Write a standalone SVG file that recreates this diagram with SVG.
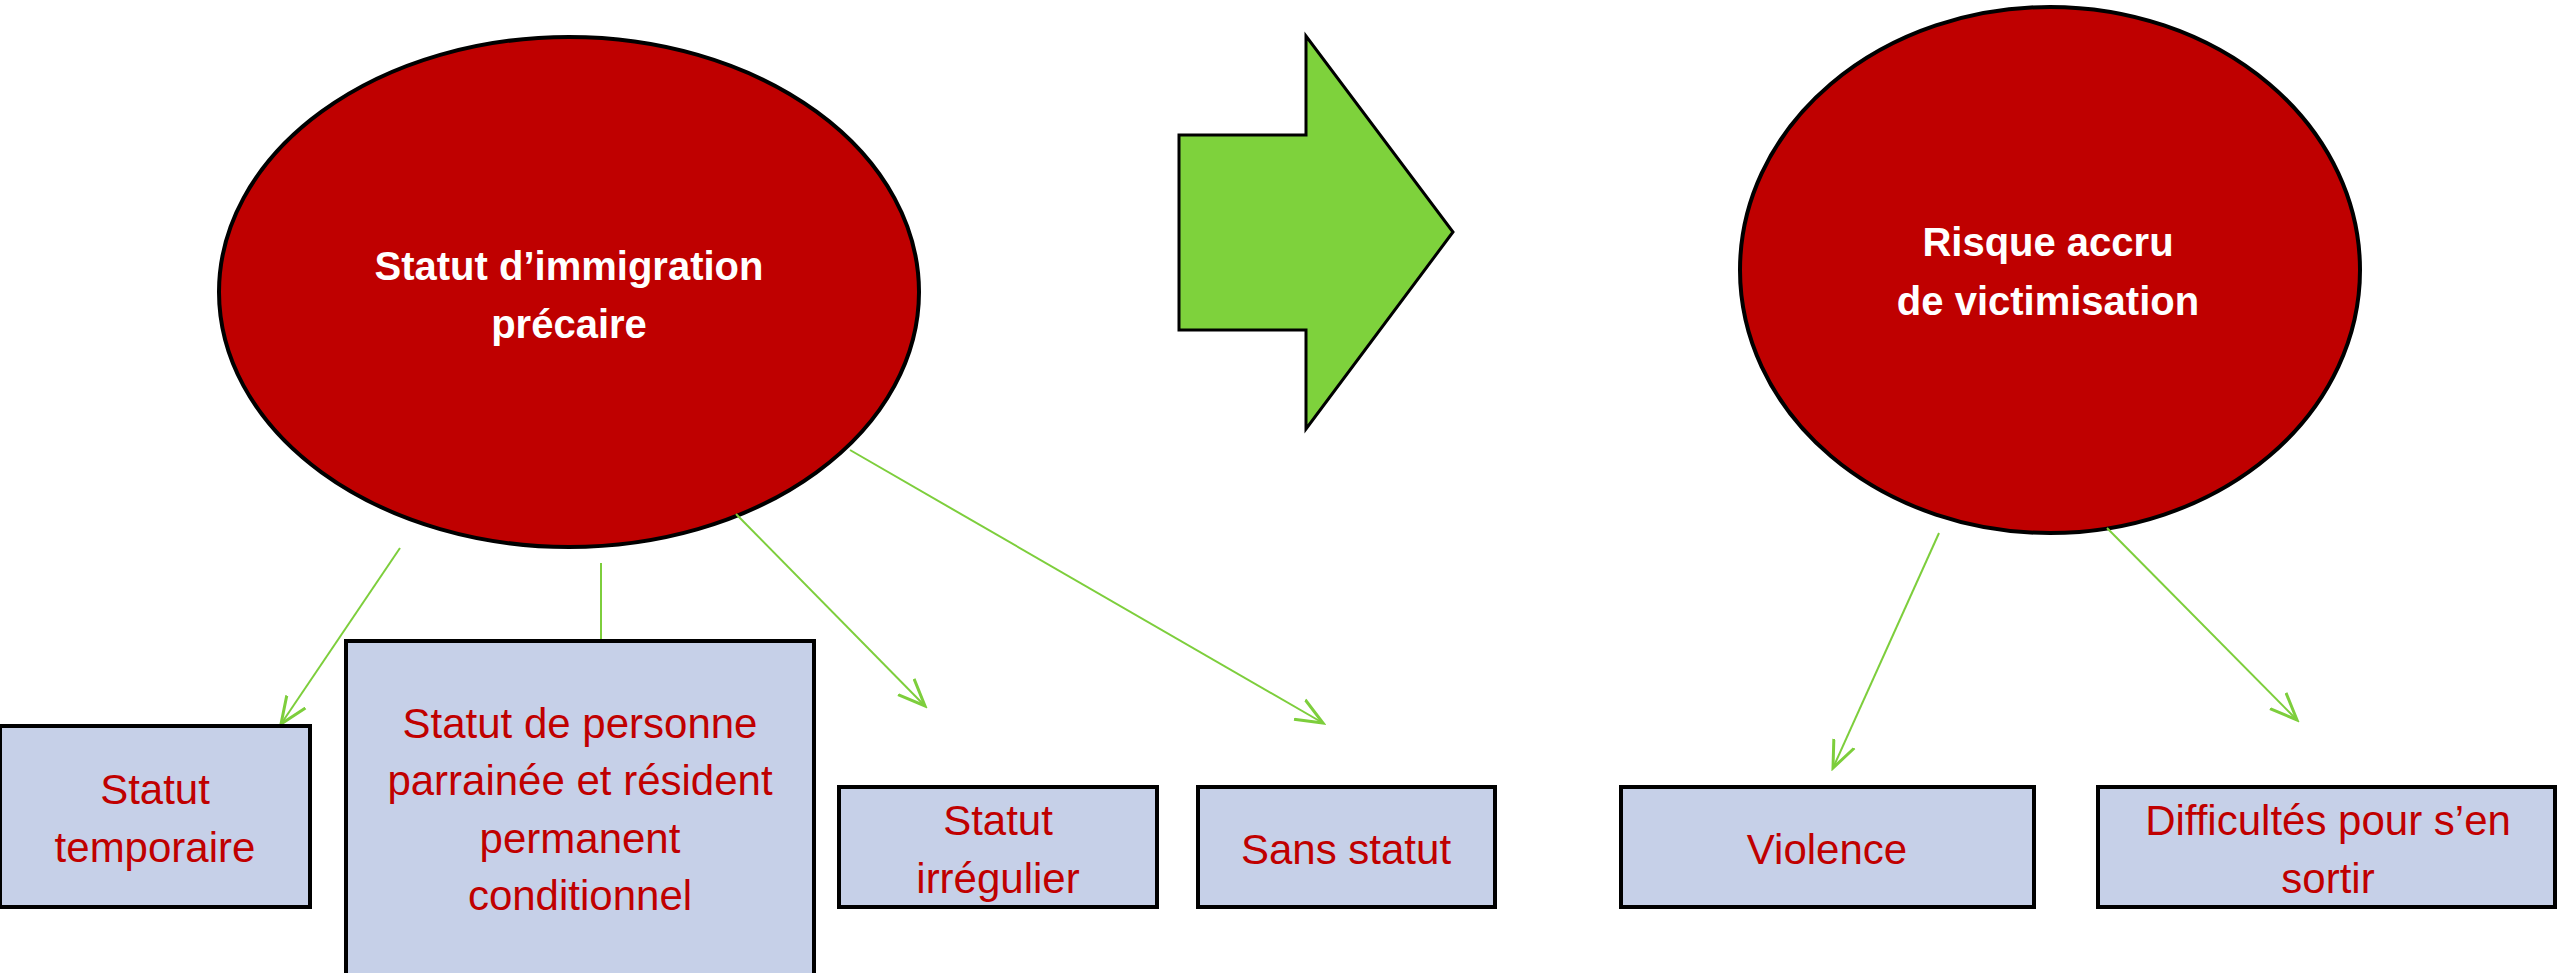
<svg xmlns="http://www.w3.org/2000/svg" width="2560" height="973" viewBox="0 0 2560 973">
<style>
.ell{fill:#BF0000;stroke:#000;stroke-width:4}
.box{fill:#C6D0E8;stroke:#000;stroke-width:4}
.lt{font-family:"Liberation Sans",Arial,sans-serif;font-size:42px;fill:#C00000;text-anchor:middle}
.wt{font-family:"Liberation Sans",Arial,sans-serif;font-size:40px;font-weight:bold;fill:#fff;text-anchor:middle}
.con{stroke:#7DCE3C;stroke-width:2;fill:none}
</style>
<defs>
<marker id="ah" markerUnits="userSpaceOnUse" markerWidth="30" markerHeight="30" refX="18" refY="10" orient="auto" viewBox="0 0 20 20">
<path d="M0,2.5 L18,10 L0,17.5" fill="none" stroke="#7DCE3C" stroke-width="2"/>
</marker>
</defs>
<g id="n-statut-immigration">
<ellipse class="ell" cx="569" cy="292" rx="350" ry="255"/>
<text class="wt" x="569" y="280" font-size="41">Statut d’immigration</text>
<text class="wt" x="569" y="338" font-size="41">précaire</text>
</g>
<g id="n-fleche">
<path d="M1179,135 L1306,135 L1306,36 L1453,232 L1306,429 L1306,330 L1179,330 Z" fill="#7ED23C" stroke="#000" stroke-width="3"/>
</g>
<g id="n-risque">
<ellipse class="ell" cx="2050" cy="270" rx="310" ry="263"/>
<text class="wt" x="2048" y="256">Risque accru</text>
<text class="wt" x="2048" y="315">de victimisation</text>
</g>
<g id="connectors">
<line class="con" x1="400" y1="548" x2="281" y2="724" marker-end="url(#ah)"/>
<line class="con" x1="601" y1="563" x2="601" y2="641"/>
<line class="con" x1="736" y1="514" x2="925" y2="706" marker-end="url(#ah)"/>
<line class="con" x1="850" y1="450" x2="1323" y2="723" marker-end="url(#ah)"/>
<line class="con" x1="1939" y1="533" x2="1833" y2="768" marker-end="url(#ah)"/>
<line class="con" x1="2107" y1="528" x2="2297" y2="720" marker-end="url(#ah)"/>
</g>
<g id="n-temporaire">
<rect class="box" x="0" y="726" width="310" height="181"/>
<text class="lt" x="155" y="804">Statut</text>
<text class="lt" x="155" y="862">temporaire</text>
</g>
<g id="n-parrainee">
<rect class="box" x="346" y="641" width="468" height="360"/>
<text class="lt" x="580" y="738">Statut de personne</text>
<text class="lt" x="580" y="795">parrainée et résident</text>
<text class="lt" x="580" y="853">permanent</text>
<text class="lt" x="580" y="910">conditionnel</text>
</g>
<g id="n-irregulier">
<rect class="box" x="839" y="787" width="318" height="120"/>
<text class="lt" x="998" y="835">Statut</text>
<text class="lt" x="998" y="893">irrégulier</text>
</g>
<g id="n-sans-statut">
<rect class="box" x="1198" y="787" width="297" height="120"/>
<text class="lt" x="1346" y="864">Sans statut</text>
</g>
<g id="n-violence">
<rect class="box" x="1621" y="787" width="413" height="120"/>
<text class="lt" x="1827" y="864">Violence</text>
</g>
<g id="n-difficultes">
<rect class="box" x="2098" y="787" width="457" height="120"/>
<text class="lt" x="2328" y="835">Difficultés pour s’en</text>
<text class="lt" x="2328" y="893">sortir</text>
</g>
</svg>
